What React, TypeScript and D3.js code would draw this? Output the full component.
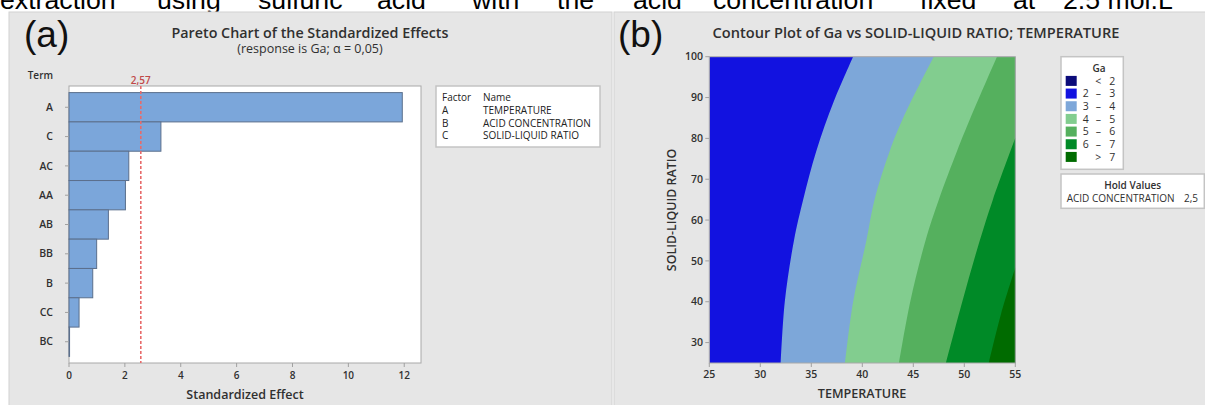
import React from "react";
import * as d3 from "d3";

// Pareto chart data
const terms = ["A", "C", "AC", "AA", "AB", "BB", "B", "CC", "BC"];
const effects = [11.93, 3.29, 2.14, 2.02, 1.41, 0.99, 0.85, 0.36, 0.02];
const criticalEffect = 2.57;
const criticalLabel = "2,57";
const effectTicks = [0, 2, 4, 6, 8, 10, 12];
const factorCodes = ["A", "B", "C"];
const factorNames = ["TEMPERATURE", "ACID CONCENTRATION", "SOLID-LIQUID RATIO"];

// Contour plot axes
const tempTicks = [25, 30, 35, 40, 45, 50, 55];
const ratioTicks = [30, 40, 50, 60, 70, 80, 90, 100];

// Ga bands (legend) and their fills
const gaBandLow = ["", "2", "3", "4", "5", "6", ""];
const gaBandSign = ["<", "–", "–", "–", "–", "–", ">"];
const gaBandHigh = ["2", "3", "4", "5", "6", "7", "7"];
const gaColors = ["#0b0b7a", "#1212e0", "#7da7d9", "#82cd8f", "#55b05e", "#008a27", "#006b00"];

// Contour lines of Ga, as [solid-liquid ratio, temperature] pairs
const contourGa3 = [[25, 32.0], [40, 32.4], [55, 33.3], [65, 34.2], [77, 35.5], [89, 37.2], [100, 39.1]];
const contourGa4 = [[25, 38.3], [40, 39.1], [55, 40.4], [65, 41.2], [77, 42.7], [85, 44.0], [100, 47.0]];
const contourGa5 = [[25, 43.6], [40, 44.7], [55, 46.2], [65, 47.5], [77, 49.3], [85, 50.6], [100, 53.2]];
const contourGa6 = [[25, 48.2], [40, 49.8], [54, 51.4], [65, 52.8], [80.1, 55.0]];
const contourGa7 = [[25, 52.4], [37, 53.6], [48.3, 55.0]];
const holdName = "ACID CONCENTRATION";
const holdValue = "2,5";

// Caption line above the figure
const captionWords = ["extraction", "using", "sulfuric", "acid", "with", "the", "acid", "concentration", "fixed", "at", "2.5 mol.L"];
const captionX = [0, 157, 258, 377, 472, 557, 633, 713, 920, 1013, 1063];

const SANS = "'Open Sans', 'Noto Sans', sans-serif";
const ARIAL = "'Liberation Sans', Arial, sans-serif";
const PANEL = "#e6e6e6";
const TXT = "#303030";

function Pareto() {
  const left = 69, right = 421, top = 86, bottom = 363;
  const x = d3.scaleLinear().domain([0, 12.6]).range([left, right]);
  const y = d3.scaleBand<string>().domain(terms).range([top, bottom]).paddingInner(0).paddingOuter(0.225);
  return (
    <g>
      <text x={24} y={47} fontFamily={ARIAL} fontSize={37} fill="#111">(a)</text>
      <text x={310} y={38} textAnchor="middle" fontFamily={SANS} fontSize={14.3} fontWeight={600} fill={TXT}>
        Pareto Chart of the Standardized Effects
      </text>
      <text x={310} y={53} textAnchor="middle" fontFamily={SANS} fontSize={12.5} fill={TXT}>
        (response is Ga; α = 0,05)
      </text>
      <rect x={left} y={top} width={right - left} height={bottom - top} fill="#fff" stroke="#a8a8a8" strokeWidth={1} />
      {terms.map((t, i) => (
        <rect key={t} x={x(0)} y={y(t)} width={x(effects[i]) - x(0)} height={y.bandwidth()}
          fill="#7ba6da" stroke="#5b6f8c" strokeWidth={1} />
      ))}
      <line x1={x(criticalEffect)} x2={x(criticalEffect)} y1={top} y2={bottom}
        stroke="#e86a6a" strokeWidth={1.6} strokeDasharray="3,2" />
      <text x={x(criticalEffect)} y={84} textAnchor="middle" fontFamily={SANS} fontSize={10} fontWeight={600} fill="#c04848">
        {criticalLabel}
      </text>
      {terms.map((t) => (
        <g key={t}>
          <line x1={left - 4} x2={left} y1={y(t)! + y.bandwidth() / 2} y2={y(t)! + y.bandwidth() / 2} stroke="#a0a0a0" />
          <text x={53} y={y(t)! + y.bandwidth() / 2} dy="0.35em" textAnchor="end" fontFamily={SANS} fontSize={10.5} fontWeight={600} fill={TXT}>
            {t}
          </text>
        </g>
      ))}
      <text x={53} y={79} textAnchor="end" fontFamily={SANS} fontSize={10} fontWeight={600} fill={TXT}>Term</text>
      {effectTicks.map((v) => (
        <g key={v}>
          <line x1={x(v)} x2={x(v)} y1={bottom} y2={bottom + 4} stroke="#a0a0a0" />
          <text x={x(v)} y={379} textAnchor="middle" fontFamily={SANS} fontSize={10} fontWeight={600} fill={TXT}>{v}</text>
        </g>
      ))}
      <text x={245} y={399} textAnchor="middle" fontFamily={SANS} fontSize={12.5} fontWeight={600} fill={TXT}>
        Standardized Effect
      </text>
      <rect x={436} y={86} width={164} height={61} fill="#fff" stroke="#c4c4c4" strokeWidth={1.5} />
      <text x={442} y={101} fontFamily={SANS} fontSize={10} fill="#222">Factor</text>
      <text x={483} y={101} fontFamily={SANS} fontSize={10} fill="#222">Name</text>
      {factorCodes.map((c, i) => (
        <g key={c}>
          <text x={442} y={114 + i * 12.6} fontFamily={SANS} fontSize={10} fill="#222">{c}</text>
          <text x={483} y={114 + i * 12.6} fontFamily={SANS} fontSize={10} fill="#222">{factorNames[i]}</text>
        </g>
      ))}
    </g>
  );
}

function Contour() {
  const left = 709.3, right = 1015.3, top = 56.7, bottom = 363;
  const x = d3.scaleLinear().domain([25, 55]).range([left, right]);
  const y = d3.scaleLinear().domain([25, 100]).range([bottom, top]);
  const region = d3.area<number[]>()
    .y((d) => y(d[0]))
    .x0((d) => x(d[1]))
    .x1(() => x(55) + 2)
    .curve(d3.curveCatmullRom.alpha(0.5));
  const contours = [contourGa3, contourGa4, contourGa5, contourGa6, contourGa7];
  return (
    <g>
      <defs>
        <clipPath id="contour-clip">
          <rect x={left} y={top} width={right - left} height={bottom - top} />
        </clipPath>
      </defs>
      <text x={618} y={47} fontFamily={ARIAL} fontSize={37} fill="#111">(b)</text>
      <text x={916} y={38} textAnchor="middle" fontFamily={SANS} fontSize={14.6} fontWeight={600} fill={TXT}>
        Contour Plot of Ga vs SOLID-LIQUID RATIO; TEMPERATURE
      </text>
      <g clipPath="url(#contour-clip)">
        <rect x={left} y={top} width={right - left} height={bottom - top} fill={gaColors[1]} />
        {contours.map((c, i) => (
          <path key={i} d={region(c) ?? ""} fill={gaColors[i + 2]} />
        ))}
      </g>
      <rect x={left} y={top} width={right - left} height={bottom - top} fill="none" stroke="#a8a8a8" strokeWidth={1} />
      {tempTicks.map((v) => (
        <g key={v}>
          <line x1={x(v)} x2={x(v)} y1={bottom} y2={bottom + 4} stroke="#a0a0a0" />
          <text x={x(v)} y={378} textAnchor="middle" fontFamily={SANS} fontSize={10.5} fontWeight={600} fill={TXT}>{v}</text>
        </g>
      ))}
      {ratioTicks.map((v) => (
        <g key={v}>
          <line x1={left - 4} x2={left} y1={y(v)} y2={y(v)} stroke="#a0a0a0" />
          <text x={703} y={y(v)} dy="0.35em" textAnchor="end" fontFamily={SANS} fontSize={10.5} fontWeight={600} fill={TXT}>{v}</text>
        </g>
      ))}
      <text x={862} y={398} textAnchor="middle" fontFamily={SANS} fontSize={12.6} fontWeight={600} fill={TXT}>TEMPERATURE</text>
      <text transform="translate(676,210) rotate(-90)" textAnchor="middle" fontFamily={SANS} fontSize={12.4} fontWeight={600} fill={TXT}>
        SOLID-LIQUID RATIO
      </text>
      <rect x={1061} y={56.7} width={62.3} height={112.6} fill="#fff" stroke="#c4c4c4" strokeWidth={1.5} />
      <text x={1099} y={71.5} textAnchor="middle" fontFamily={SANS} fontSize={10} fontWeight={600} fill={TXT}>Ga</text>
      {gaColors.map((c, i) => {
        const cy = 80.9 + i * 12.67;
        return (
          <g key={i}>
            <rect x={1065.7} y={cy - 5} width={11} height={10} fill={c} />
            <text x={1085.7} y={cy} dy="0.35em" textAnchor="middle" fontFamily={SANS} fontSize={10.5} fill={TXT}>{gaBandLow[i]}</text>
            <text x={1098.3} y={cy} dy="0.35em" textAnchor="middle" fontFamily={SANS} fontSize={10.5} fill={TXT}>{gaBandSign[i]}</text>
            <text x={1112.3} y={cy} dy="0.35em" textAnchor="middle" fontFamily={SANS} fontSize={10.5} fill={TXT}>{gaBandHigh[i]}</text>
          </g>
        );
      })}
      <rect x={1061} y={174} width={143.3} height={34.3} fill="#fff" stroke="#c4c4c4" strokeWidth={1.5} />
      <text x={1132.7} y={189} textAnchor="middle" fontFamily={SANS} fontSize={10} fontWeight={600} fill={TXT}>Hold Values</text>
      <text x={1066.7} y={201.5} fontFamily={SANS} fontSize={10} fill={TXT}>{holdName}</text>
      <text x={1198} y={201.5} textAnchor="end" fontFamily={SANS} fontSize={10} fill={TXT}>{holdValue}</text>
    </g>
  );
}

export default function App() {
  return (
    <svg width={1205} height={405} style={{ position: "absolute", left: 0, top: 0, background: "#fff" }}>
      <g fontFamily={ARIAL} fontSize={26.7} fill="#000">
        {captionWords.map((w, i) => (
          <text key={i} x={captionX[i]} y={9}>{w}</text>
        ))}
      </g>
      <rect x={9} y={12} width={603} height={400} fill={PANEL} stroke="#d2d2d2" strokeWidth={1} />
      <rect x={614} y={12} width={600} height={400} fill={PANEL} stroke="#d2d2d2" strokeWidth={1} />
      <Pareto />
      <Contour />
    </svg>
  );
}
